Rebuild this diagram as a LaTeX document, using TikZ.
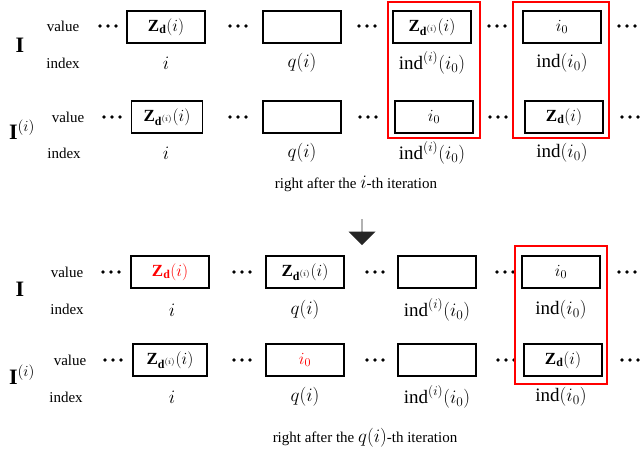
\RequirePackage{fix-cm}
\documentclass[tikz,border=0pt]{standalone}
\usepackage{fontspec}
\setmainfont{Liberation Serif}
\usetikzlibrary{shapes.arrows}
\begin{document}
\begin{tikzpicture}[x=1pt,y=-1pt,
 bx/.style={draw,line width=1.6pt,minimum width=78pt,minimum height=32pt,inner sep=0pt,font=\fontsize{17}{17}\selectfont},
 lbl/.style={font=\fontsize{15}{15}\selectfont},
 ix/.style={font=\fontsize{19}{19}\selectfont},
 dt/.style={minimum width=24pt,minimum height=6pt,inner sep=0pt,
   path picture={\foreach \k in {-1,0,1}\fill ([xshift=\k*8pt]path picture bounding box.center) circle (1.9pt);}},
 big/.style={font=\fontsize{22}{22}\selectfont},
 red box/.style={draw=red,line width=1.5pt}]
\useasboundingbox (0,0) rectangle (640,450);
% ---- top panel ----
\node[big] (I1) at (20,45) {$\mathbf{I}$};
\node[big] (I2) at (22,130) {$\mathbf{I}^{(i)}$};
\node[lbl] (v1) at (63,26) {value};
\node[lbl] (x1) at (63,63) {index};
\node[lbl] (v2) at (68,117) {value};
\node[lbl] (x2) at (64,153) {index};
\node[bx] (a1) at (166,27) {$\mathbf{Z}_{\mathbf{d}}(i)$};
\node[bx] (a2) at (302,27) {};
\node[bx] (a3) at (432,27) {$\mathbf{Z}_{\mathbf{d}^{(i)}}(i)$};
\node[bx] (a4) at (562,27) {$i_0$};
\node[bx,minimum width=71pt] (b1) at (167,117) {$\mathbf{Z}_{\mathbf{d}^{(i)}}(i)$};
\node[bx] (b2) at (302,117) {};
\node[bx] (b3) at (434,117) {$i_0$};
\node[bx] (b4) at (564,117) {$\mathbf{Z}_{\mathbf{d}}(i)$};
\foreach \n/\x/\y in {d1/108/26,d2/238/26,d3/367/26,d4/497/26,d5/627/26,e1/112/117,e2/238/117,e3/368/117,e4/498/117,e5/630/117}
  \node[dt] (\n) at (\x,\y) {};
\node[ix] (p1) at (166,63) {$i$};
\node[ix] (p2) at (302,63) {$q(i)$};
\node[ix] (p3) at (432,63) {$\mathrm{ind}^{(i)}(i_0)$};
\node[ix] (p4) at (562,63) {$\mathrm{ind}(i_0)$};
\node[ix] (r1) at (166,153) {$i$};
\node[ix] (r2) at (302,153) {$q(i)$};
\node[ix] (r3) at (432,153) {$\mathrm{ind}^{(i)}(i_0)$};
\node[ix] (r4) at (562,153) {$\mathrm{ind}(i_0)$};
\draw[red box] (388,2) rectangle (480,138);
\draw[red box] (513,2) rectangle (609,138);
\node[lbl] (c1) at (356,184) {right after the \fontsize{19}{19}\selectfont$i$\fontsize{15}{15}\selectfont-th iteration};
% ---- arrow ----
\node[single arrow,fill=black!85,shape border rotate=270,minimum height=26pt,minimum width=27pt,single arrow head extend=6pt,single arrow head indent=0pt,inner sep=0pt] (ar) at (362,232) {};
% ---- bottom panel ----
\node[big] (J1) at (20,289) {$\mathbf{I}$};
\node[big] (J2) at (22,375) {$\mathbf{I}^{(i)}$};
\node[lbl] (w1) at (67,272) {value};
\node[lbl] (y1) at (67,309) {index};
\node[lbl] (w2) at (70,360) {value};
\node[lbl] (y2) at (66,397) {index};
\node[bx,text=red] (f1) at (170,272) {$\mathbf{Z}_{\mathbf{d}}(i)$};
\node[bx] (f2) at (305,272) {$\mathbf{Z}_{\mathbf{d}^{(i)}}(i)$};
\node[bx] (f3) at (437,272) {};
\node[bx] (f4) at (561,272) {$i_0$};
\node[bx,minimum width=74pt] (g1) at (170,360) {$\mathbf{Z}_{\mathbf{d}^{(i)}}(i)$};
\node[bx,text=red] (g2) at (305,360) {$i_0$};
\node[bx] (g3) at (437,360) {};
\node[bx] (g4) at (563,360) {$\mathbf{Z}_{\mathbf{d}}(i)$};
\foreach \n/\x/\y in {h1/111/272,h2/242/272,h3/375/272,h4/505/272,h5/627/272,k1/113/360,k2/242/360,k3/375/360,k4/506/360,k5/630/360}
  \node[dt] (\n) at (\x,\y) {};
\node[ix] (s1) at (172,310) {$i$};
\node[ix] (s2) at (305,310) {$q(i)$};
\node[ix] (s3) at (437,310) {$\mathrm{ind}^{(i)}(i_0)$};
\node[ix] (s4) at (561,310) {$\mathrm{ind}(i_0)$};
\node[ix] (t1) at (172,397) {$i$};
\node[ix] (t2) at (305,397) {$q(i)$};
\node[ix] (t3) at (437,397) {$\mathrm{ind}^{(i)}(i_0)$};
\node[ix] (t4) at (561,397) {$\mathrm{ind}(i_0)$};
\draw[red box] (515,246) rectangle (607,384);
\node[lbl] (c2) at (365,438) {right after the \fontsize{19}{19}\selectfont$q(i)$\fontsize{15}{15}\selectfont-th iteration};
\end{tikzpicture}
\end{document}
